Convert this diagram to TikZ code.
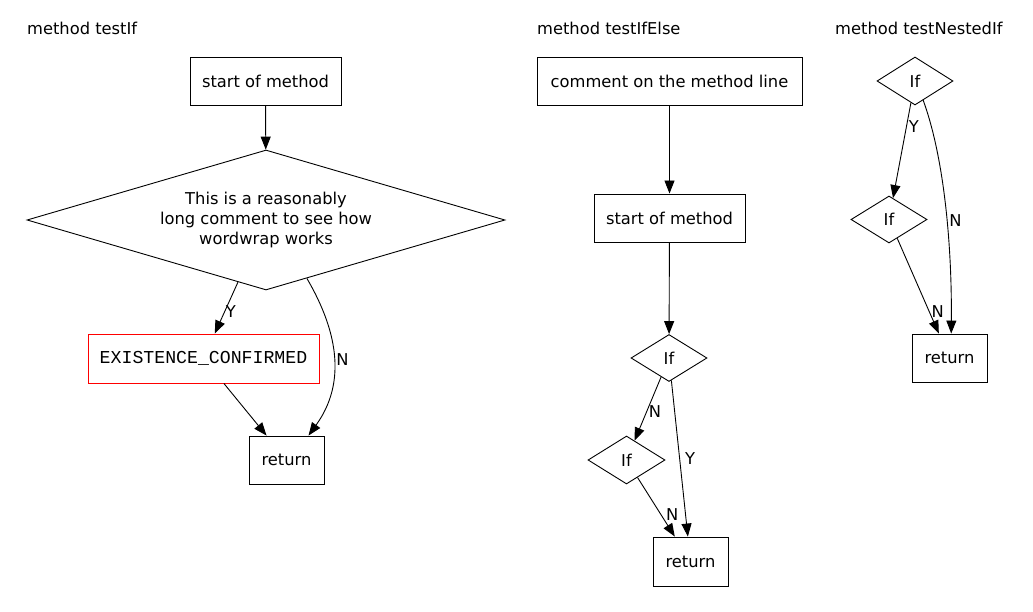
\documentclass[tikz,border=0pt]{standalone}
\usepackage{fontspec}
\setmainfont{DejaVu Sans}
\setmonofont{Liberation Mono}
\usepackage{tikz}
\usetikzlibrary{shapes.geometric,arrows.meta}

\begin{document}
\begin{tikzpicture}[x=1pt,y=-1pt,
font=\fontsize{16.3}{20}\selectfont,
box/.style={draw,line width=0.9pt,inner sep=2pt,minimum height=48pt,align=center},
cond/.style={draw,diamond,line width=0.9pt,inner sep=0pt,aspect=1.6,align=center},
title/.style={anchor=base west,inner sep=0pt},
lbl/.style={anchor=west,inner sep=2pt},
arr/.style={-{Triangle[length=13pt,width=10pt]},line width=0.9pt}]
\useasboundingbox (0,0) rectangle (1033,612);
% method testIf
\node[title] (t1) at (27,35) {method testIf};
\node[box,minimum width=151pt] (s1) at (265.5,81) {start of method};
\node[cond,aspect=3.4,minimum width=478pt,minimum height=140pt] (d1) at (266,220)
{This is a reasonably\\long comment to see how\\wordwrap works};
\node[box,draw=red,minimum width=231pt,minimum height=49pt,font=\ttfamily\fontsize{18.2}{20}\selectfont] (e1) at (203.5,358.5) {EXISTENCE\_CONFIRMED};
\node[box,minimum width=75pt] (r1) at (286.5,460) {return};
\draw[arr] (s1) -- (d1);
\draw[arr] (d1) -- (e1) node[lbl,pos=0.58,inner sep=1pt]{Y};
\draw[arr] (d1.-55) .. controls (340,335) and (345,385) .. (r1.48) node[lbl,pos=0.5]{N};
\draw[arr] (e1) -- (r1);
% method testIfElse
\node[title] (t2) at (537,35) {method testIfElse};
\node[box,minimum width=265pt] (c2) at (669.5,81) {comment on the method line};
\node[box,minimum width=151pt] (s2) at (669.5,218) {start of method};
\node[cond,minimum width=76pt,minimum height=47pt] (i2a) at (669,358) {If};
\node[cond,minimum width=77pt,minimum height=48pt] (i2b) at (626.5,460) {If};
\node[box,minimum width=75pt,minimum height=49pt] (r2) at (690.5,561.5) {return};
\draw[arr] (c2) -- (s2);
\draw[arr] (s2) -- (i2a);
\draw[arr] (i2a) -- (i2b) node[lbl,pos=0.55]{N};
\draw[arr] (i2a) -- (r2) node[lbl,pos=0.5,xshift=3pt]{Y};
\draw[arr] (i2b) -- (r2) node[lbl,pos=0.62,xshift=3pt]{N};
% method testNestedIf
\node[title] (t3) at (835,35) {method testNestedIf};
\node[cond,minimum width=76pt,minimum height=48pt] (i3a) at (915,81) {If};
\node[cond,minimum width=76pt,minimum height=47pt] (i3b) at (889,219.5) {If};
\node[box,minimum width=75pt] (r3) at (949.5,358) {return};
\draw[arr] (i3a) -- (i3b) node[lbl,pos=0.25]{Y};
\draw[arr] (i3a.-67) .. controls (945,160) and (952,250) .. (r3.86) node[lbl,pos=0.55]{N};
\draw[arr] (i3b) -- (r3) node[lbl,pos=0.77]{N};
\end{tikzpicture}
\end{document}
